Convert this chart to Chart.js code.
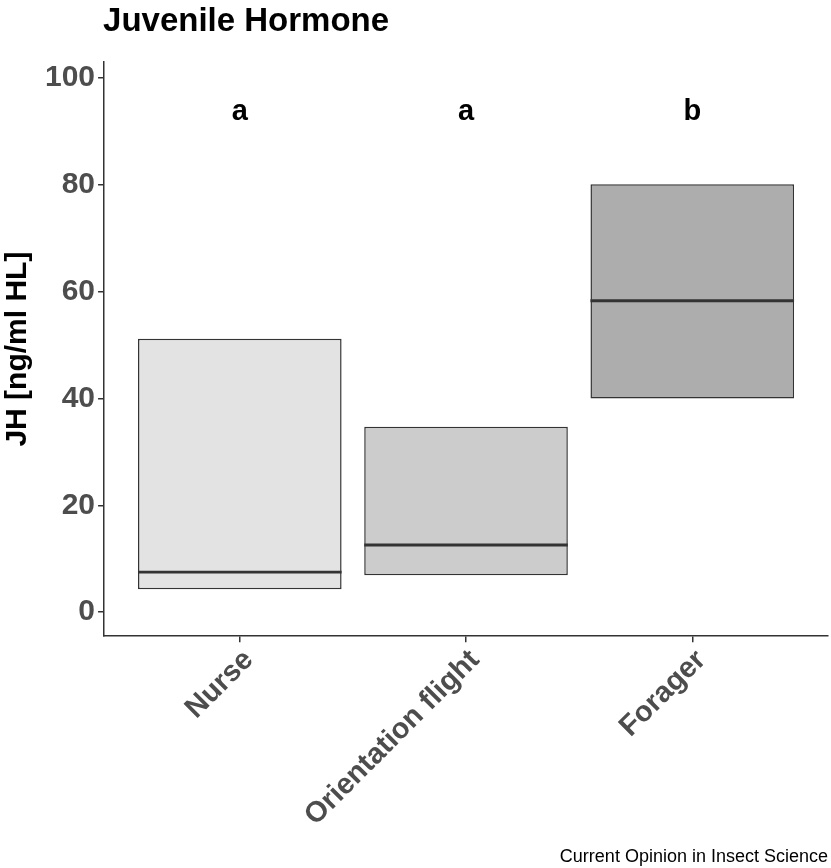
<!DOCTYPE html>
<html>
<head>
<meta charset="utf-8">
<title>Juvenile Hormone</title>
<script src="https://cdn.jsdelivr.net/npm/chart.js@4.4.0/dist/chart.umd.min.js"></script>
<style>
  html, body { margin: 0; padding: 0; background: #fff; }
  #wrap { width: 831px; height: 868px; }
</style>
</head>
<body>
<div id="wrap"><canvas id="jh-chart"></canvas></div>
<script>
// groups on the x axis
const groups = ['Nurse', 'Orientation flight', 'Forager'];
// box ranges (ng/ml HL)
const boxLow = [4.3, 6.9, 40.0];
const boxHigh = [51.2, 34.7, 80.1];
const medians = [7.5, 12.6, 58.3];
// significance letters above each box
const sigLetters = ['a', 'a', 'b'];
const letterLevel = 93.6;
const yTicks = [0, 20, 40, 60, 80, 100];
const fills = ['#e3e3e3', '#cccccc', '#adadad'];

const FONT = '"Liberation Sans", Arial, sans-serif';
const MEDIAN_HALF = 0.28;

const boxData = groups.map((g, i) => ({ x: i + 1, y: [boxLow[i], boxHigh[i]] }));
const medianData = groups.map((g, i) => ({ x: i + 1, y: [medians[i] - MEDIAN_HALF, medians[i] + MEDIAN_HALF] }));

// title, letters and source line
const textPlugin = {
  id: 'textPlugin',
  afterDraw(chart) {
    const c = chart.ctx;
    const area = chart.chartArea;
    const xs = chart.scales.x;
    const ys = chart.scales.y;
    c.save();
    c.fillStyle = '#000';
    c.textBaseline = 'alphabetic';
    c.textAlign = 'left';
    c.font = 'bold 33px ' + FONT;
    c.fillText('Juvenile Hormone', area.left - 1, 31);

    c.font = 'bold 29px ' + FONT;
    c.textAlign = 'center';
    c.textBaseline = 'middle';
    sigLetters.forEach((t, i) => {
      c.fillText(t, xs.getPixelForValue(i + 1), ys.getPixelForValue(letterLevel));
    });

    c.font = '18px ' + FONT;
    c.textAlign = 'right';
    c.textBaseline = 'alphabetic';
    c.fillText('Current Opinion in Insect Science', chart.width - 3, 862);
    c.restore();
  }
};

const ctx = document.getElementById('jh-chart').getContext('2d');
new Chart(ctx, {
  type: 'bar',
  data: {
    datasets: [
      {
        label: 'median',
        data: medianData,
        backgroundColor: '#333333',
        borderWidth: 0,
        grouped: false,
        order: 1,
        barPercentage: 0.9,
        categoryPercentage: 1
      },
      {
        label: 'JH',
        data: boxData,
        backgroundColor: fills,
        borderColor: '#333333',
        borderWidth: 1.5,
        borderSkipped: false,
        grouped: false,
        order: 2,
        barPercentage: 0.9,
        categoryPercentage: 1
      }
    ]
  },
  options: {
    responsive: true,
    maintainAspectRatio: false,
    animation: false,
    layout: { padding: { top: 62, left: 0, right: 3, bottom: 34 } },
    plugins: {
      legend: { display: false },
      tooltip: { enabled: false },
      title: { display: false }
    },
    scales: {
      x: {
        type: 'linear',
        min: 0.4,
        max: 3.6,
        offset: false,
        afterBuildTicks: (axis) => { axis.ticks = groups.map((g, i) => ({ value: i + 1 })); },
        ticks: {
          minRotation: 45,
          maxRotation: 45,
          autoSkip: false,
          labelOffset: 9,
          padding: 1,
          color: '#4d4d4d',
          font: { family: FONT, size: 29, weight: 'bold' },
          callback: (v) => groups[v - 1]
        },
        grid: { offset: false, drawOnChartArea: false, drawTicks: true, tickLength: 6, color: '#333333', lineWidth: 1.5 },
        border: { display: true, color: '#333333', width: 1.5 }
      },
      y: {
        min: -4.5,
        max: 103,
        afterBuildTicks: (axis) => { axis.ticks = yTicks.map(v => ({ value: v })); },
        ticks: {
          color: '#4d4d4d',
          padding: 3,
          font: { family: FONT, size: 30, weight: 'bold' }
        },
        title: {
          display: true,
          text: 'JH [ng/ml HL]',
          color: '#000',
          padding: { top: 0, bottom: 6 },
          font: { family: FONT, size: 30, weight: 'bold' }
        },
        grid: { drawOnChartArea: false, drawTicks: true, tickLength: 6, color: '#333333', lineWidth: 1.5 },
        border: { display: true, color: '#333333', width: 1.5 }
      }
    }
  },
  plugins: [textPlugin]
});
</script>
</body>
</html>
